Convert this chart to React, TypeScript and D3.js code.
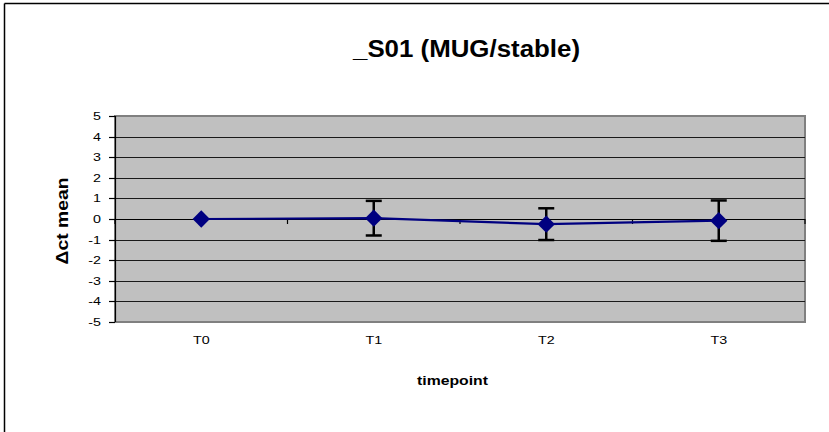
import React from "react";
import * as d3 from "d3";

const categories = ["T0", "T1", "T2", "T3"];
const means = [0, 0.04, -0.25, -0.08];
const errors = [0, 0.84, 0.77, 0.98];
const yTicks = [-5, -4, -3, -2, -1, 0, 1, 2, 3, 4, 5];
const title = "_S01 (MUG/stable)";
const xTitle = "timepoint";
const yTitle = "\u0394ct mean";

const W = 829;
const H = 432;
const plot = { left: 115, right: 805, top: 116, bottom: 322 };
const SX = 1.3;
const FONT = "Liberation Sans, Arial, sans-serif";

export default function App() {
  const x = d3
    .scaleBand<string>()
    .domain(categories)
    .range([plot.left, plot.right])
    .padding(0);
  const y = d3.scaleLinear().domain([-5, 5]).range([plot.bottom, plot.top]);
  const cx = (c: string) => (x(c) as number) + x.bandwidth() / 2;

  const line = d3
    .line<number>()
    .x((_, i) => cx(categories[i]))
    .y((d) => y(d));

  const diamond = d3.symbol().type(d3.symbolSquare).size(150)() as string;
  const boundaries = [...categories.map((c) => x(c) as number), plot.right];

  return (
    <svg
      width={W}
      height={H}
      style={{ position: "absolute", left: 0, top: 0, background: "#fff" }}
      fontFamily={FONT}
    >
      <rect x={0} y={0} width={W} height={H} fill="#fff" />
      {/* outer frame (top and left visible) */}
      <line x1={4.5} x2={W} y1={3.5} y2={3.5} stroke="#000" strokeWidth={1.5} />
      <line x1={4.5} x2={4.5} y1={3.5} y2={H} stroke="#000" strokeWidth={1.5} />

      {/* title */}
      <text
        x={466.5}
        y={57}
        textAnchor="middle"
        fontSize={23}
        fontWeight="bold"
        textLength={227}
        lengthAdjust="spacingAndGlyphs"
      >
        {title}
      </text>

      {/* plot background */}
      <rect
        x={plot.left}
        y={plot.top}
        width={plot.right - plot.left}
        height={plot.bottom - plot.top}
        fill="#c0c0c0"
        stroke="#808080"
        strokeWidth={2}
      />

      {/* gridlines */}
      {yTicks
        .filter((t) => t !== 5 && t !== -5)
        .map((t) => (
          <line
            key={"g" + t}
            x1={plot.left}
            x2={plot.right}
            y1={Math.round(y(t)) + 0.5}
            y2={Math.round(y(t)) + 0.5}
            stroke="#1a1a1a"
            strokeWidth={1.2}
          />
        ))}

      {/* y axis */}
      <line x1={plot.left + 0.5} x2={plot.left + 0.5} y1={plot.top} y2={plot.bottom} stroke="#000" strokeWidth={1.2} />
      {yTicks.map((t) => (
        <g key={"yt" + t}>
          <line
            x1={plot.left - 6}
            x2={plot.left}
            y1={Math.round(y(t)) + 0.5}
            y2={Math.round(y(t)) + 0.5}
            stroke="#000"
            strokeWidth={1.2}
          />
          <g transform={`translate(101,${y(t) + 4}) scale(${SX},1)`}>
            <text textAnchor="end" fontSize={11} fill="#000">
              {String(t)}
            </text>
          </g>
        </g>
      ))}

      {/* x axis at zero */}
      <line x1={plot.left} x2={plot.right} y1={Math.round(y(0)) + 0.5} y2={Math.round(y(0)) + 0.5} stroke="#000" strokeWidth={1.2} />
      {boundaries.map((b, i) => (
        <line
          key={"xt" + i}
          x1={b}
          x2={b}
          y1={y(0)}
          y2={y(0) + 5}
          stroke="#000"
          strokeWidth={1.2}
        />
      ))}
      {categories.map((c) => (
        <g key={"xl" + c} transform={`translate(${cx(c)},343.5) scale(${SX},1)`}>
          <text textAnchor="middle" fontSize={11} fill="#000">
            {c}
          </text>
        </g>
      ))}

      {/* axis titles */}
      <text
        x={452.5}
        y={385}
        textAnchor="middle"
        fontSize={12.5}
        fontWeight="bold"
        textLength={71}
        lengthAdjust="spacingAndGlyphs"
      >
        {xTitle}
      </text>
      <text
        transform={`translate(68,221) rotate(-90)`}
        textAnchor="middle"
        fontSize={16}
        fontWeight="bold"
        textLength={87}
        lengthAdjust="spacingAndGlyphs"
      >
        {yTitle}
      </text>

      {/* line */}
      <path d={line(means) as string} fill="none" stroke="#000080" strokeWidth={2.2} />

      {/* error bars */}
      {categories.map((c, i) =>
        errors[i] > 0 ? (
          <g key={"e" + c} stroke="#000" strokeWidth={2.5}>
            <line x1={cx(c)} x2={cx(c)} y1={y(means[i] + errors[i])} y2={y(means[i] - errors[i])} />
            <line x1={cx(c) - 8} x2={cx(c) + 8} y1={y(means[i] + errors[i])} y2={y(means[i] + errors[i])} />
            <line x1={cx(c) - 8} x2={cx(c) + 8} y1={y(means[i] - errors[i])} y2={y(means[i] - errors[i])} />
          </g>
        ) : null
      )}

      {/* markers */}
      {categories.map((c, i) => (
        <path
          key={"m" + c}
          d={diamond}
          transform={`translate(${cx(c)},${y(means[i])}) rotate(45)`}
          fill="#000080"
        />
      ))}
    </svg>
  );
}
